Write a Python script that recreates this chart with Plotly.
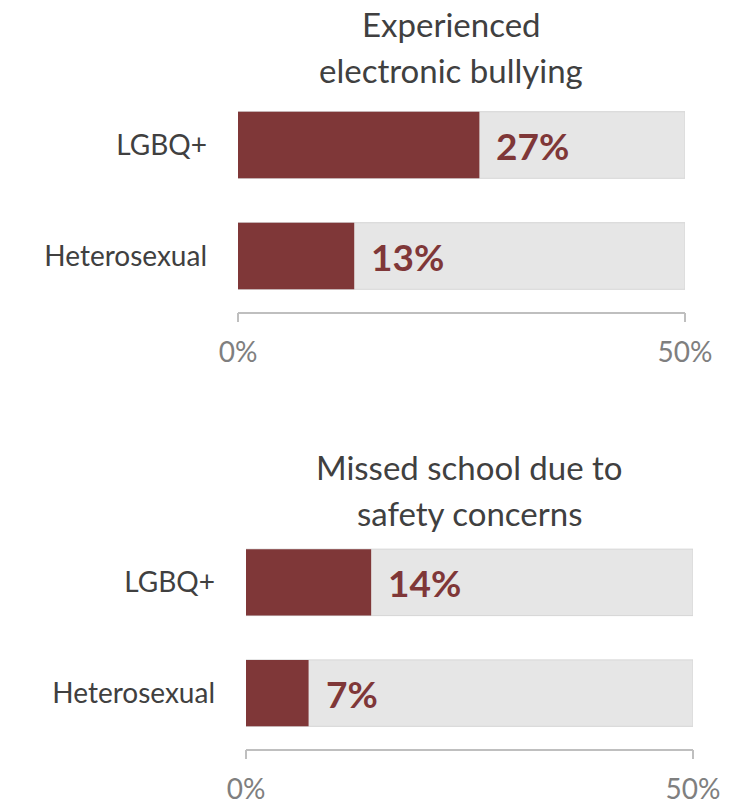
import plotly.graph_objects as go

categories = ["LGBQ+", "Heterosexual"]
bullying_values = [0.27, 0.13]
missed_values = [0.14, 0.07]
value_labels_bullying = ["27%", "13%"]
value_labels_missed = ["14%", "7%"]
axis_max = 0.5
tick_vals = [0, 0.5]
tick_text = ["0%", "50%"]
title_top = ["Experienced", "electronic bullying"]
title_bottom = ["Missed school due to", "safety concerns"]

W, H = 741, 804
RED = "#7F3738"
GREY = "#E6E6E6"
FONT = "Lato"

fig = go.Figure()

panels = [
    (bullying_values, value_labels_bullying, "x", "y"),
    (missed_values, value_labels_missed, "x2", "y2"),
]
for vals, labs, xa, ya in panels:
    fig.add_trace(go.Bar(
        x=[axis_max] * len(categories), y=categories, orientation="h",
        marker=dict(color=GREY, line=dict(color="#D6D6D6", width=1)),
        xaxis=xa, yaxis=ya, hoverinfo="skip", showlegend=False,
    ))
    fig.add_trace(go.Bar(
        x=vals, y=categories, orientation="h",
        marker=dict(color=RED, line=dict(width=0)),
        xaxis=xa, yaxis=ya, showlegend=False,
    ))
    for v, lab, c in zip(vals, labs, categories):
        fig.add_annotation(
            x=v, y=c, xref=xa, yref=ya, text=lab, showarrow=False,
            xanchor="left", yanchor="middle", xshift=15,
            font=dict(family=FONT, size=37, color=RED, weight="bold"),
        )

def xaxis_cfg(domain):
    return dict(
        domain=domain, range=[0, axis_max], showgrid=False, zeroline=False,
        showline=True, linecolor="#BFBFBF", linewidth=1.5,
        ticks="outside", ticklen=9, tickcolor="#BFBFBF", tickwidth=1.5,
        tickvals=tick_vals, ticktext=tick_text, ticklabelstandoff=6,
        tickfont=dict(family=FONT, size=28, color="#7F7F7F"),
        fixedrange=True, automargin=False,
    )

def yaxis_cfg(domain, anchor):
    return dict(
        domain=domain, anchor=anchor, type="category",
        categoryorder="array", categoryarray=categories[::-1],
        range=[-0.5, 1.5], showgrid=False, zeroline=False, showline=False,
        ticks="", ticklabelstandoff=30,
        tickfont=dict(family=FONT, size=28, color="#404040"),
        fixedrange=True, automargin=False,
    )

fig.update_layout(
    width=W, height=H, margin=dict(l=0, r=0, t=0, b=0, autoexpand=False),
    paper_bgcolor="white", plot_bgcolor="white",
    barmode="overlay", bargap=0.4,
    xaxis=xaxis_cfg([238 / W, 685 / W]) | dict(anchor="y"),
    yaxis=yaxis_cfg([(H - 311.5) / H, (H - 89.5) / H], "x"),
    xaxis2=xaxis_cfg([246 / W, 693 / W]) | dict(anchor="y2"),
    yaxis2=yaxis_cfg([(H - 748.5) / H, (H - 527) / H], "x2"),
)

for lines, xc, ys in [(title_top, 451, [24, 70]), (title_bottom, 469, [467, 513])]:
    for line, yc in zip(lines, ys):
        fig.add_annotation(
            x=xc / W, y=(H - yc) / H, xref="paper", yref="paper", text=line,
            showarrow=False, xanchor="center", yanchor="middle",
            font=dict(family=FONT, size=33, color="#404040"),
        )

fig.write_html("out.html")
